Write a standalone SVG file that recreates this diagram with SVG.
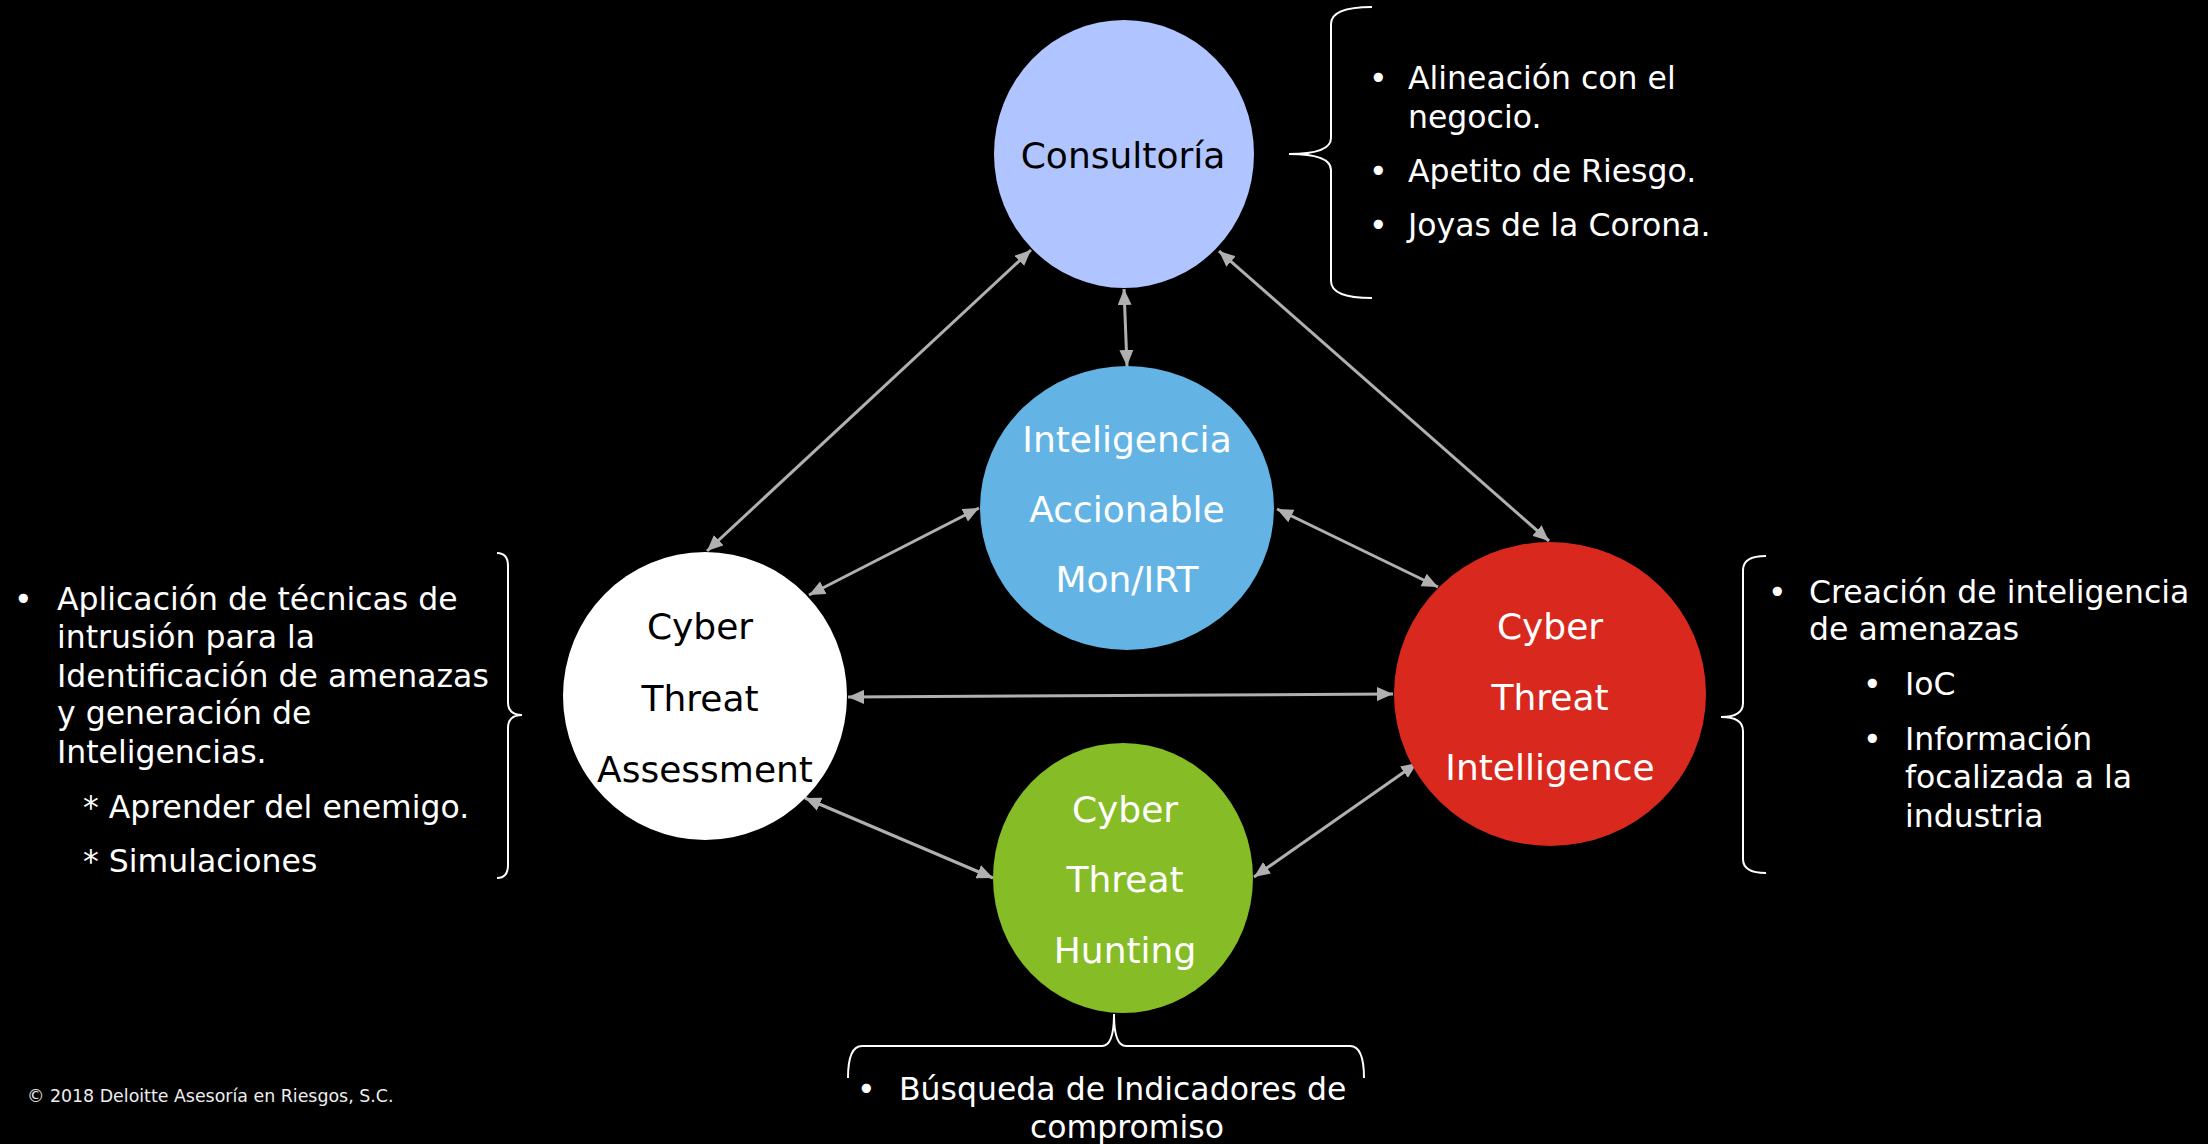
<svg xmlns="http://www.w3.org/2000/svg" width="2208" height="1144" viewBox="0 0 2208 1144">
<defs>
<marker id="ah" markerUnits="userSpaceOnUse" markerWidth="16" markerHeight="14" refX="16" refY="7" orient="auto-start-reverse">
<path d="M0,0 L16,7 L0,14 z" fill="#B0B0B0"/>
</marker>
<style>
.node text{font-family:"DejaVu Sans","Verdana",sans-serif;font-size:36px;text-anchor:middle}
.lbl{font-family:"DejaVu Sans","Verdana",sans-serif;font-size:31.5px;fill:#FFFFFF}
.conn line{stroke:#B0B0B0;stroke-width:3;marker-start:url(#ah);marker-end:url(#ah)}
.brace{fill:none;stroke:#FFFFFF;stroke-width:2}
.dark{fill:#000000}
.light{fill:#FFFFFF}
</style>
</defs>
<rect width="2208" height="1144" fill="#000000"/>

<g id="connectors" class="conn">
<line x1="1031" y1="250" x2="707" y2="551"/>
<line x1="1219" y1="251" x2="1549" y2="541"/>
<line x1="1124" y1="289" x2="1127" y2="366"/>
<line x1="979" y1="508" x2="809" y2="595"/>
<line x1="1277" y1="509" x2="1438" y2="587"/>
<line x1="848" y1="697" x2="1393" y2="694"/>
<line x1="805" y1="798" x2="993" y2="878"/>
<line x1="1254" y1="877" x2="1417" y2="763"/>
</g>

<g id="consultoria" class="node">
<ellipse cx="1124" cy="154" rx="130" ry="134" fill="#B0C4FF"/>
<text x="1123" y="168" class="dark">Consultoría</text>
</g>

<g id="inteligencia" class="node">
<ellipse cx="1127" cy="508" rx="147" ry="142" fill="#63B4E4"/>
<text x="1127" y="452" class="light">Inteligencia</text>
<text x="1127" y="522" class="light">Accionable</text>
<text x="1127" y="592" class="light">Mon/IRT</text>
</g>

<g id="cta" class="node">
<ellipse cx="705" cy="696" rx="142" ry="144" fill="#FFFFFF"/>
<text x="700" y="639" class="dark">Cyber</text>
<text x="700" y="711" class="dark">Threat</text>
<text x="705" y="782" class="dark">Assessment</text>
</g>

<g id="cti" class="node">
<ellipse cx="1550" cy="694" rx="156" ry="152" fill="#D9291E"/>
<text x="1550" y="639" class="light">Cyber</text>
<text x="1550" y="710" class="light">Threat</text>
<text x="1550" y="780" class="light">Intelligence</text>
</g>

<g id="cth" class="node">
<ellipse cx="1123" cy="878" rx="130" ry="135" fill="#86BC25"/>
<text x="1125" y="822" class="light">Cyber</text>
<text x="1125" y="892" class="light">Threat</text>
<text x="1125" y="963" class="light">Hunting</text>
</g>

<g id="braces">
<path class="brace" d="M1372,7 Q1331,7 1331,24 L1331,138 Q1331,154 1289,154 Q1331,154 1331,170 L1331,281 Q1331,298 1372,298"/>
<path class="brace" d="M497,553 Q508,553 508,566 L508,702 Q508,715 522,715 Q508,715 508,728 L508,865 Q508,878 497,878"/>
<path class="brace" d="M1766,556 Q1743,556 1743,570 L1743,703 Q1743,717 1721,717 Q1743,717 1743,731 L1743,859 Q1743,873 1766,873"/>
<path class="brace" d="M848,1078 Q848,1046 862,1046 L1102,1046 Q1114,1046 1114,1014 Q1114,1046 1126,1046 L1350,1046 Q1364,1046 1364,1078"/>
</g>

<g id="text-consultoria" class="lbl">
<text x="1369" y="89">•</text>
<text x="1408" y="89">Alineación con el</text>
<text x="1408" y="128">negocio.</text>
<text x="1369" y="182">•</text>
<text x="1408" y="182">Apetito de Riesgo.</text>
<text x="1369" y="236">•</text>
<text x="1408" y="236">Joyas de la Corona.</text>
</g>

<g id="text-cta" class="lbl">
<text x="14" y="610">•</text>
<text x="57" y="610">Aplicación de técnicas de</text>
<text x="57" y="648">intrusión para la</text>
<text x="57" y="687">Identificación de amenazas</text>
<text x="57" y="724">y generación de</text>
<text x="57" y="763">Inteligencias.</text>
<text x="83" y="818">* Aprender del enemigo.</text>
<text x="83" y="872">* Simulaciones</text>
</g>

<g id="text-cti" class="lbl">
<text x="1768" y="603">•</text>
<text x="1809" y="603">Creación de inteligencia</text>
<text x="1809" y="640">de amenazas</text>
<text x="1863" y="695">•</text>
<text x="1905" y="695">IoC</text>
<text x="1863" y="750">•</text>
<text x="1905" y="750">Información</text>
<text x="1905" y="788">focalizada a la</text>
<text x="1905" y="827">industria</text>
</g>

<g id="text-cth" class="lbl">
<text x="857" y="1100">•</text>
<text x="899" y="1100">Búsqueda de Indicadores de</text>
<text x="1127" y="1138" text-anchor="middle">compromiso</text>
</g>

<text x="27" y="1102" font-family="DejaVu Sans, Verdana, sans-serif" font-size="17.4" fill="#EDEDED">© 2018 Deloitte Asesoría en Riesgos, S.C.</text>
</svg>
